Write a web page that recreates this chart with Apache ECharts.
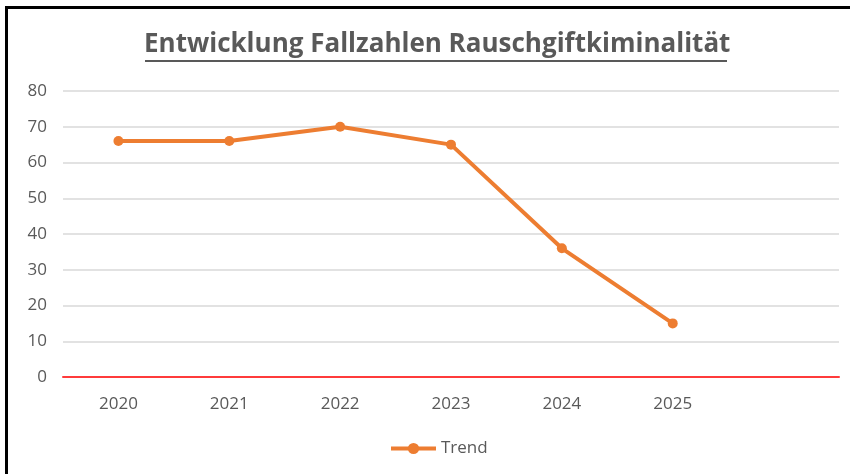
<!DOCTYPE html>
<html>
<head>
<meta charset="utf-8">
<script src="https://cdn.jsdelivr.net/npm/echarts@6/dist/echarts.min.js"></script>
<style>
  html, body { margin: 0; padding: 0; background: #fff; }
  #frame {
    position: absolute; left: 5px; top: 6px; width: 845px; height: 468px;
    border-left: 3px solid #000; border-top: 3px solid #000;
    box-sizing: border-box; pointer-events: none; z-index: 2;
  }
  #chart { position: absolute; left: 0; top: 0; width: 850px; height: 474px; }
</style>
</head>
<body>
<div id="chart"></div>
<div id="frame"></div>
<script>
// Daten
const years = ['2020', '2021', '2022', '2023', '2024', '2025', ''];
const trendValues = [66, 66, 70, 65, 36, 15];
const yTicks = [0, 10, 20, 30, 40, 50, 60, 70, 80];

const font = "'Open Sans', sans-serif";
const textGray = '#595959';
const orange = '#ed7d31';

const chart = echarts.init(document.getElementById('chart'));

chart.setOption({
  backgroundColor: '#fff',
  animation: false,
  title: {
    text: 'Entwicklung Fallzahlen Rauschgiftkiminalität',
    left: 139,
    top: 27,
    textStyle: { fontFamily: font, fontSize: 26, fontWeight: 'bold', color: textGray }
  },
  // Unterstreichung des Titels
  graphic: [{
    type: 'line',
    shape: { x1: 145, y1: 61, x2: 727, y2: 61 },
    style: { stroke: textGray, lineWidth: 2 }
  }],
  legend: {
    bottom: 12,
    left: 384,
    itemWidth: 45,
    itemHeight: 14,
    itemGap: 4,
    textStyle: { fontFamily: font, fontSize: 17, color: textGray },
    lineStyle: { width: 4 },
    data: ['Trend']
  },
  grid: { left: 63, right: 11, top: 91, bottom: 97 },
  xAxis: {
    type: 'category',
    data: years,
    boundaryGap: true,
    axisLine: { lineStyle: { color: '#ff3b3b', width: 2 } },
    axisTick: { show: false },
    axisLabel: { fontFamily: font, fontSize: 17, color: textGray, margin: 19 }
  },
  yAxis: {
    type: 'value',
    min: yTicks[0],
    max: yTicks[yTicks.length - 1],
    interval: yTicks[1] - yTicks[0],
    axisLine: { show: false },
    axisTick: { show: false },
    axisLabel: { fontFamily: font, fontSize: 17, color: textGray, margin: 16 },
    splitLine: { lineStyle: { color: '#d9d9d9', width: 1.5 } }
  },
  series: [{
    name: 'Trend',
    type: 'line',
    data: trendValues,
    symbol: 'circle',
    symbolSize: 10,
    lineStyle: { color: orange, width: 4 },
    itemStyle: { color: orange }
  }]
});
</script>
</body>
</html>
